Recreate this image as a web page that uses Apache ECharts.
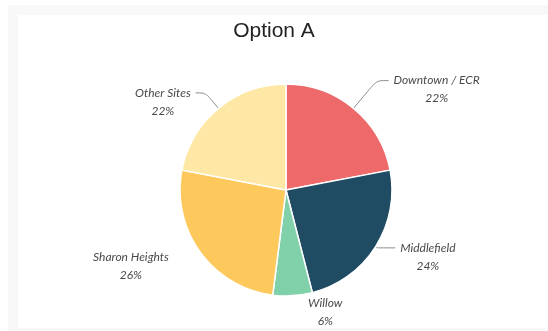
<!DOCTYPE html>
<html>
<head>
<meta charset="utf-8">
<script src="https://cdn.jsdelivr.net/npm/echarts@6/dist/echarts.min.js"></script>
<style>
html,body{margin:0;padding:0;background:#fff;}
#chart{width:548px;height:331px;}
</style>
</head>
<body>
<div id="chart"></div>
<script>
const titleText = 'Option A';
const categories = ['Downtown / ECR', 'Middlefield', 'Willow', 'Sharon Heights', 'Other Sites'];
const values = [22, 24, 6, 26, 22];
const colors = ['#EE6A6A', '#1F4B63', '#80D0AA', '#FEC95C', '#FFE8A6'];
const lineLengths = [36, 2, 7, 8, 20];
const lineLengths2 = [12, 18, 10, 20, 10];
const lineShown = [true, true, false, false, true];

const chart = echarts.init(document.getElementById('chart'), null, {renderer: 'canvas'});

const data = categories.map((name, i) => ({
  name: name,
  value: values[i],
  itemStyle: {color: colors[i]},
  labelLine: {show: lineShown[i], length: lineLengths[i], length2: lineLengths2[i]}
}));

chart.setOption({
  backgroundColor: '#ffffff',
  animation: false,
  graphic: [{
    type: 'rect',
    silent: true,
    z: -10,
    shape: {x: 13, y: 10, width: 560, height: 323},
    style: {fill: 'none', stroke: '#f8f8f8', lineWidth: 10}
  }],
  title: {
    text: titleText,
    left: 'center',
    top: 16,
    textStyle: {
      fontFamily: 'Liberation Sans, Arial, sans-serif',
      fontSize: 21,
      fontWeight: 'normal',
      color: '#222222'
    }
  },
  series: [{
    type: 'pie',
    center: [286, 190],
    radius: 106,
    startAngle: 90,
    clockwise: true,
    avoidLabelOverlap: false,
    itemStyle: {borderColor: '#ffffff', borderWidth: 1.5},
    label: {
      show: true,
      position: 'outside',
      formatter: '{n|{b}}\n{p|{d}%}',
      padding: [18, 0, 0, 0],
      distanceToLabelLine: 5,
      rich: {
        n: {align: 'center', fontFamily: 'Lato, sans-serif', fontStyle: 'italic', fontSize: 12, color: '#4a4a4a', lineHeight: 18},
        p: {align: 'center', fontFamily: 'Lato, sans-serif', fontStyle: 'italic', fontSize: 12, color: '#4a4a4a', lineHeight: 18}
      }
    },
    labelLine: {
      smooth: 0.3,
      lineStyle: {color: '#8a8a8a', width: 1}
    },
    emphasis: {disabled: true},
    data: data
  }]
});
</script>
</body>
</html>
